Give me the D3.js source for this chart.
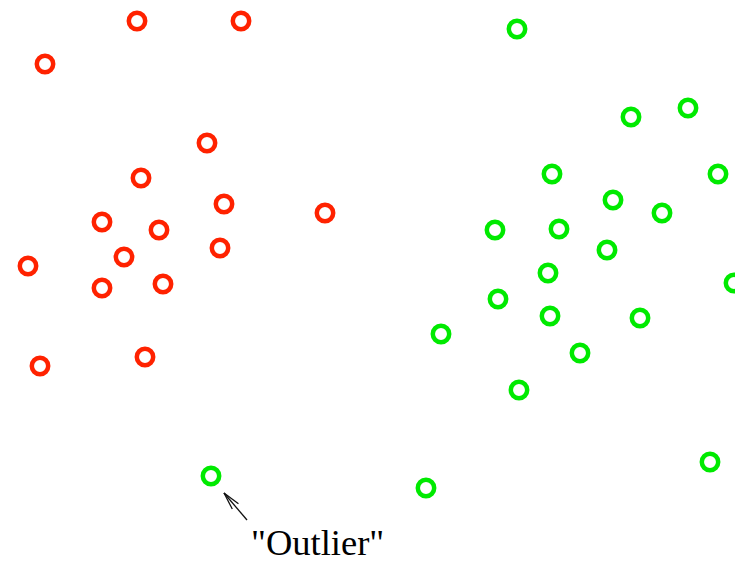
<!DOCTYPE html>
<html>
<head>
<meta charset="utf-8">
<script src="https://cdn.jsdelivr.net/npm/d3@7"></script>
<style>
  html, body { margin: 0; padding: 0; background: #fff; }
  svg { display: block; }
</style>
</head>
<body>
<script>
// Two clusters of observations in a 2-D feature space (x, y)
const redX = [137, 241, 45, 207, 141, 224, 325, 102, 159, 220, 124, 28, 102, 163, 145, 40];
const redY = [21, 21, 64, 143, 178, 204, 213, 222, 230, 248, 257, 266, 288, 284, 357, 366];

const greenX = [517, 631, 688, 552, 718, 613, 662, 495, 559, 607, 548, 734, 498, 441, 550, 640, 580, 519, 710, 426, 211];
const greenY = [29, 117, 108, 174, 174, 200, 213, 230, 229, 250, 273, 283, 299, 334, 316, 318, 353, 390, 462, 488, 476];

// Annotated point
const outlierLabel = "\"Outlier\"";
const outlierIndex = 20;

const W = 735, H = 563;
const x = d3.scaleLinear().domain([0, 735]).range([0, W]);
const y = d3.scaleLinear().domain([0, 563]).range([0, H]);

const svg = d3.select("body").append("svg")
  .attr("width", W).attr("height", H);

const red = redX.map((v, i) => ({ x: v, y: redY[i] }));
const green = greenX.map((v, i) => ({ x: v, y: greenY[i] }));

function drawRings(data, color) {
  svg.append("g").selectAll("circle")
    .data(data).join("circle")
    .attr("cx", d => x(d.x))
    .attr("cy", d => y(d.y))
    .attr("r", 8.2)
    .attr("fill", "none")
    .attr("stroke", color)
    .attr("stroke-width", 4.5);
}
drawRings(red, "#ff2200");
drawRings(green, "#00ea00");

// Arrow pointing at the outlier
const o = green[outlierIndex];
const tip = [x(o.x) + 13, y(o.y) + 17];
const tail = [tip[0] + 23, tip[1] + 27];
const ang = Math.atan2(tail[1] - tip[1], tail[0] - tip[0]);
const barbLen = 18, spread = 13 * Math.PI / 180;
const arrow = svg.append("g")
  .attr("stroke", "#111")
  .attr("stroke-width", 1.3)
  .attr("fill", "none");
arrow.append("line")
  .attr("x1", tail[0]).attr("y1", tail[1])
  .attr("x2", tip[0]).attr("y2", tip[1]);
[-spread, spread].forEach(s => {
  arrow.append("line")
    .attr("x1", tip[0]).attr("y1", tip[1])
    .attr("x2", tip[0] + barbLen * Math.cos(ang + s))
    .attr("y2", tip[1] + barbLen * Math.sin(ang + s));
});

svg.append("text")
  .attr("x", tail[0] + 4)
  .attr("y", y(555))
  .attr("font-family", "'Liberation Serif', 'Times New Roman', serif")
  .attr("font-size", 36.5)
  .attr("fill", "#000")
  .text(outlierLabel);
</script>
</body>
</html>
